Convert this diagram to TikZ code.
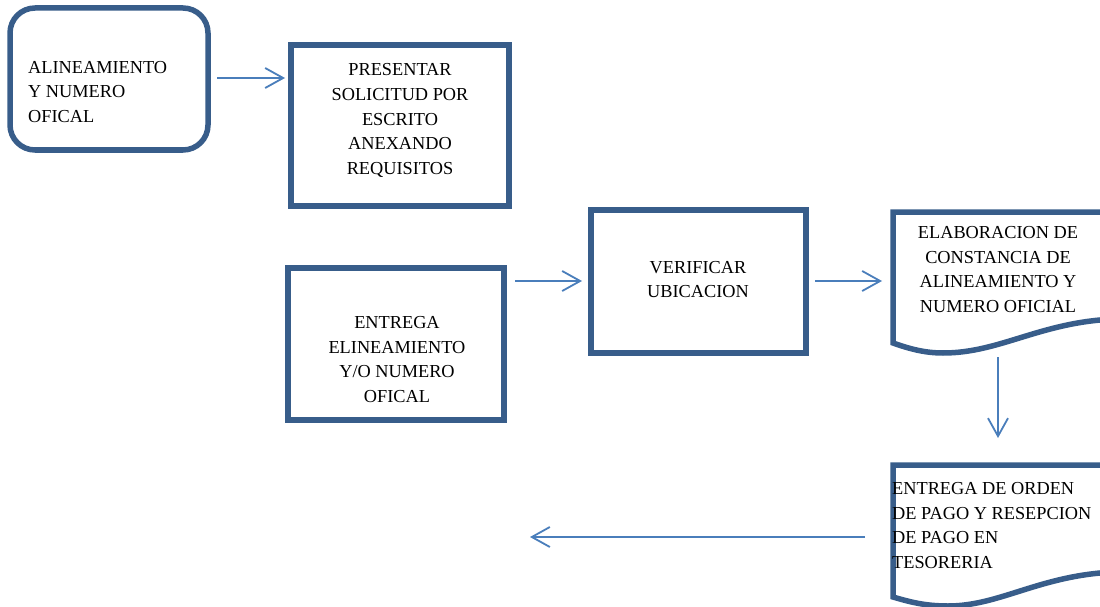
\documentclass[tikz,border=0pt]{standalone}
\usepackage{fontspec}
\setmainfont{Liberation Serif}
\usetikzlibrary{arrows.meta}
\definecolor{edgeblue}{HTML}{385D8A}
\definecolor{arrowblue}{HTML}{4A7EBB}
\begin{document}
\begin{tikzpicture}[x=1pt,y=-1pt,
  box/.style={draw=edgeblue, line width=5.5pt, fill=white, inner sep=0pt},
  docshape/.style={draw=edgeblue, line width=5.5pt, fill=white, line join=miter},
  lbl/.style={font=\fontsize{18.3}{24.8}\selectfont, inner sep=0pt, align=center},
  flow/.style={draw=arrowblue, line width=1.8pt, -{Straight Barb[length=18pt,width=20pt]}}
]
\useasboundingbox (0,0) rectangle (1100,607);

% boxes
\node[box, rounded corners=25pt, minimum width=198pt, minimum height=142pt] (n1) at (109,79) {};
\node[box, minimum width=218pt, minimum height=161pt] (n2) at (400,125.5) {};
\node[box, minimum width=216pt, minimum height=152pt] (n3) at (396,344) {};
\node[box, minimum width=215pt, minimum height=143pt] (n4) at (698.5,281.5) {};

% documents
\draw[docshape] (893,212) -- (1115,212) -- (1115,319)
  .. controls (1040,322) and (1000,353) .. (943,353)
  .. controls (925,353) and (910,349) .. (893,343) -- cycle;
\draw[docshape] (893,465) -- (1115,465) -- (1115,572)
  .. controls (1040,575) and (1000,606) .. (948,606)
  .. controls (925,606) and (910,602) .. (893,597) -- cycle;

% texts
\node[lbl, anchor=west, align=left] (t1) at (28,92) {ALINEAMIENTO\\Y NUMERO\\OFICAL};
\node[lbl] (t2) at (400,120.5) {PRESENTAR\\SOLICITUD POR\\ESCRITO\\ANEXANDO\\REQUISITOS};
\node[lbl] (t3) at (397,359.5) {ENTREGA\\ELINEAMIENTO\\Y/O NUMERO\\OFICAL};
\node[lbl] (t4) at (698,279.5) {VERIFICAR\\UBICACION};
\node[lbl] (t5) at (998,269.5) {ELABORACION DE\\CONSTANCIA DE\\ALINEAMIENTO Y\\NUMERO OFICIAL};
\node[lbl, anchor=west, align=left] (t6) at (892,525.5) {ENTREGA DE ORDEN\\DE PAGO Y RESEPCION\\DE PAGO EN\\TESORERIA};

% connector ends
\coordinate (a1s) at (217,78);  \coordinate (a1e) at (285,78);
\coordinate (a2s) at (515,281); \coordinate (a2e) at (582,281);
\coordinate (a3s) at (815,281); \coordinate (a3e) at (882,281);
\coordinate (a4s) at (998,357); \coordinate (a4e) at (998,438);
\coordinate (a5s) at (865,537); \coordinate (a5e) at (530,537);

\draw[flow] (a1s) -- (a1e);
\draw[flow] (a2s) -- (a2e);
\draw[flow] (a3s) -- (a3e);
\draw[flow] (a4s) -- (a4e);
\draw[flow] (a5s) -- (a5e);
\end{tikzpicture}
\end{document}
